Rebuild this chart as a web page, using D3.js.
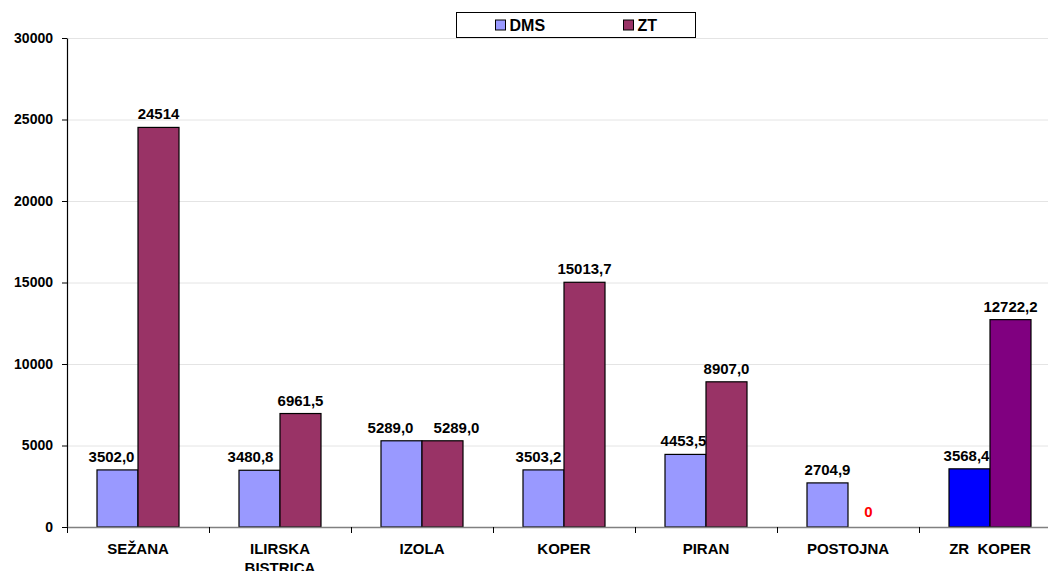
<!DOCTYPE html>
<html>
<head>
<meta charset="utf-8">
<script src="https://cdn.jsdelivr.net/npm/d3@7"></script>
<style>
  body { margin: 0; background: #fff; }
  svg { display: block; font-family: "Liberation Sans", Arial, sans-serif; font-weight: bold; }
  text { white-space: pre; }
</style>
</head>
<body>
<div id="chart"></div>
<script>
// data
var categories = ["SEŽANA", "ILIRSKA BISTRICA", "IZOLA", "KOPER", "PIRAN", "POSTOJNA", "ZR  KOPER"];
var dmsValues = [3502.0, 3480.8, 5289.0, 3503.2, 4453.5, 2704.9, 3568.4];
var ztValues = [24514, 6961.5, 5289.0, 15013.7, 8907.0, 0, 12722.2];
var dmsLabels = ["3502,0", "3480,8", "5289,0", "3503,2", "4453,5", "2704,9", "3568,4"];
var ztLabels = ["24514", "6961,5", "5289,0", "15013,7", "8907,0", "0", "12722,2"];
var yTicks = [0, 5000, 10000, 15000, 20000, 25000, 30000];

(function () {
    "use strict";

    var W = 1048, H = 571;
    var margin = { top: 38, left: 67, bottom: 44 };
    var bandW = 142;
    var plotW = bandW * categories.length;
    var plotH = H - margin.top - margin.bottom;

    var svg = d3.select("#chart").append("svg")
        .attr("width", W)
        .attr("height", H);

    var g = svg.append("g")
        .attr("transform", "translate(" + margin.left + "," + margin.top + ")");

    var x = d3.scaleBand().domain(categories).range([0, plotW]).paddingInner(0).paddingOuter(0);
    var y = d3.scaleLinear().domain([0, 30000]).range([plotH, 0]);

    var barW = 41, off = 30;

    // label nudges (the original had a few labels dragged sideways)
    var dmsNudge = [-6, -9, -11, -5, -2, 0, -3];
    var ztNudge = [0, 0, 14, 0, 0, 0, 0];

    // Grid
    g.append("g")
        .selectAll("line")
        .data(yTicks.filter(function (d) { return d > 0; }))
        .join("line")
        .attr("x1", 0).attr("x2", plotW)
        .attr("y1", function (d) { return y(d) + 0.5; })
        .attr("y2", function (d) { return y(d) + 0.5; })
        .attr("stroke", "#e4e4e4")
        .attr("stroke-width", 1);

    function dmsColor(d, i) { return i === 6 ? "#0000ff" : "#9999ff"; }
    function ztColor(d, i) { return i === 6 ? "#800080" : "#993366"; }

    // DMS bars + labels (ZT bars drawn after, so they cover label overflow)
    g.append("g").selectAll("rect")
        .data(dmsValues)
        .join("rect")
        .attr("x", function (d, i) { return x(categories[i]) + off; })
        .attr("y", function (d) { return y(d); })
        .attr("width", barW)
        .attr("height", function (d) { return y(0) - y(d); })
        .attr("fill", dmsColor)
        .attr("stroke", "#000")
        .attr("stroke-width", 1.2);

    g.append("g").selectAll("text")
        .data(dmsValues)
        .join("text")
        .attr("x", function (d, i) { return x(categories[i]) + off + barW / 2 + dmsNudge[i]; })
        .attr("y", function (d) { return y(d) - 8; })
        .attr("text-anchor", "middle")
        .attr("font-size", "15px")
        .attr("fill", "#000")
        .text(function (d, i) { return dmsLabels[i]; });

    // ZT bars + labels
    g.append("g").selectAll("rect")
        .data(ztValues)
        .join("rect")
        .attr("x", function (d, i) { return x(categories[i]) + off + barW; })
        .attr("y", function (d) { return y(d); })
        .attr("width", barW)
        .attr("height", function (d) { return y(0) - y(d); })
        .attr("fill", ztColor)
        .attr("stroke", function (d) { return d > 0 ? "#000" : "none"; })
        .attr("stroke-width", 1.2);

    g.append("g").selectAll("text")
        .data(ztValues)
        .join("text")
        .attr("x", function (d, i) { return x(categories[i]) + off + barW * 1.5 + ztNudge[i]; })
        .attr("y", function (d) { return d > 0 ? y(d) - 8 : y(d) - 10; })
        .attr("text-anchor", "middle")
        .attr("font-size", "15px")
        .attr("fill", function (d) { return d > 0 ? "#000" : "#ff0000"; })
        .text(function (d, i) { return ztLabels[i]; });

    // Y axis
    var yAxis = g.append("g")
        .call(d3.axisLeft(y).tickValues(yTicks).tickSize(5).tickSizeOuter(0).tickFormat(d3.format("d")));
    yAxis.select(".domain").attr("stroke", "#000").attr("stroke-width", 1.2);
    yAxis.selectAll(".tick line").attr("stroke", "#000");
    yAxis.selectAll(".tick text")
        .attr("x", -14)
        .attr("font-size", "14px")
        .attr("font-family", "Liberation Sans, Arial, sans-serif")
        .attr("font-weight", "bold")
        .attr("fill", "#000");

    // X axis
    var xAxis = g.append("g")
        .attr("transform", "translate(0," + plotH + ")");
    xAxis.append("line")
        .attr("x1", 0).attr("x2", plotW)
        .attr("y1", 0.5).attr("y2", 0.5)
        .attr("stroke", "#808080").attr("stroke-width", 1.5);
    xAxis.selectAll(".xtick")
        .data(categories)
        .join("line")
        .attr("class", "xtick")
        .attr("x1", function (d) { return x(d) + 0.5; })
        .attr("x2", function (d) { return x(d) + 0.5; })
        .attr("y1", 0).attr("y2", 6)
        .attr("stroke", "#000");
    xAxis.selectAll(".xlabel")
        .data(categories)
        .join("text")
        .attr("class", "xlabel")
        .attr("x", function (d) { return x(d) + bandW / 2; })
        .attr("y", 27)
        .attr("text-anchor", "middle")
        .attr("font-size", "15px")
        .attr("fill", "#000")
        .each(function (d) {
            var t = d3.select(this);
            if (d === "ILIRSKA BISTRICA") {
                t.append("tspan").attr("x", x(d) + bandW / 2).text("ILIRSKA");
                t.append("tspan").attr("x", x(d) + bandW / 2).attr("dy", 18.5).text("BISTRICA");
            } else {
                t.text(d);
            }
        });

    // Legend
    var lg = svg.append("g").attr("transform", "translate(456.5,12.5)");
    lg.append("rect")
        .attr("width", 239).attr("height", 25)
        .attr("fill", "#fff").attr("stroke", "#000").attr("stroke-width", 1);
    var items = [
        { name: "DMS", color: "#9999ff", x: 39 },
        { name: "ZT", color: "#993366", x: 167 }
    ];
    items.forEach(function (it) {
        lg.append("rect")
            .attr("x", it.x).attr("y", 7.5)
            .attr("width", 10).attr("height", 10)
            .attr("fill", it.color).attr("stroke", "#000").attr("stroke-width", 1);
        lg.append("text")
            .attr("x", it.x + 14).attr("y", 18.5)
            .attr("font-size", "16px")
            .attr("fill", "#000")
            .text(it.name);
    });
})();
</script>
</body>
</html>
